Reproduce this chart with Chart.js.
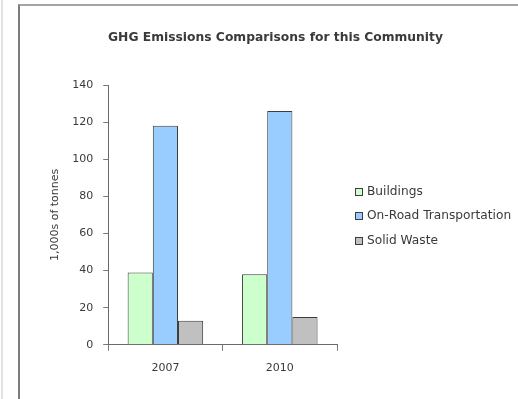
<!DOCTYPE html>
<html>
<head>
<meta charset="utf-8">
<script src="https://cdn.jsdelivr.net/npm/chart.js@4/dist/chart.umd.min.js"></script>
<style>
  html, body { margin: 0; padding: 0; background: #fff; }
  body { width: 518px; height: 399px; position: relative; overflow: hidden; }
  #edge { position: absolute; left: 1px; top: 0; width: 2px; height: 399px; background: #e2e2e2; }
  #frame { position: absolute; left: 18px; top: 4px; width: 520px; height: 420px;
           border-left: 2px solid #7c7c7c; border-top: 2px solid #a4a4a4; }
  #wrap { position: absolute; left: 20px; top: 6px; width: 498px; height: 393px; }
</style>
</head>
<body>
<div id="edge"></div>
<div id="frame"></div>
<div id="wrap"><canvas id="c" width="498" height="393"></canvas></div>
<script>
// Emissions by sector, thousands of tonnes
const years = ['2007', '2010'];
const buildings = [39, 38];
const onRoadTransportation = [118, 126];
const solidWaste = [13, 15];
const yTicks = [0, 20, 40, 60, 80, 100, 120, 140];
const chartTitle = 'GHG Emissions Comparisons for this Community';

const FONT = "'DejaVu Sans', 'Liberation Sans', sans-serif";
const TEXT = '#3a3a3a';
const EDGE = '#3c3c3c';

// Title centred over the whole frame, legend listed to the right of the plot
const sideText = {
  id: 'sideText',
  afterDraw(chart) {
    const { ctx, chartArea } = chart;
    ctx.save();
    ctx.font = `bold 12.3px ${FONT}`;
    ctx.textAlign = 'center';
    ctx.textBaseline = 'middle';
    ctx.fillStyle = TEXT;
    ctx.fillText(chartTitle, 255.5, 32);

    const x = chartArea.right + 18;
    const rowGap = 24.5;
    const n = chart.data.datasets.length;
    const midY = (chartArea.top + chartArea.bottom) / 2 + 1.5;
    ctx.font = `12.2px ${FONT}`;
    ctx.textAlign = 'left';
    chart.data.datasets.forEach((ds, i) => {
      const y = Math.round(midY + (i - (n - 1) / 2) * rowGap);
      ctx.fillStyle = ds.backgroundColor;
      ctx.fillRect(x, y - 4, 8, 8);
      ctx.strokeStyle = EDGE;
      ctx.lineWidth = 1;
      ctx.strokeRect(x + 0.5, y - 3.5, 7, 7);
      ctx.fillStyle = TEXT;
      ctx.fillText(ds.label, x + 12, y);
    });
    ctx.restore();
  }
};

new Chart(document.getElementById('c'), {
  type: 'bar',
  data: {
    labels: years,
    datasets: [
      { label: 'Buildings', data: buildings, backgroundColor: '#ccffcc', borderColor: EDGE, borderWidth: 1 },
      { label: 'On-Road Transportation', data: onRoadTransportation, backgroundColor: '#99ccff', borderColor: EDGE, borderWidth: 1 },
      { label: 'Solid Waste', data: solidWaste, backgroundColor: '#c0c0c0', borderColor: EDGE, borderWidth: 1 }
    ]
  },
  plugins: [sideText],
  options: {
    responsive: false,
    animation: false,
    devicePixelRatio: 1,
    layout: { padding: { left: 29, right: 181, top: 79, bottom: 13 } },
    datasets: { bar: { categoryPercentage: 0.66, barPercentage: 1.0 } },
    plugins: {
      tooltip: { enabled: false },
      legend: { display: false },
      title: { display: false }
    },
    scales: {
      x: {
        grid: { display: true, drawOnChartArea: false, offset: true, tickLength: 6, color: '#7a7a7a' },
        border: { color: '#6a6a6a', width: 1 },
        ticks: { color: TEXT, font: { family: FONT, size: 11 }, padding: 11 }
      },
      y: {
        min: 0,
        max: 140,
        afterBuildTicks: (axis) => { axis.ticks = yTicks.map(v => ({ value: v })); },
        grid: { display: true, drawOnChartArea: false, tickLength: 5, color: '#7a7a7a' },
        border: { color: '#6a6a6a', width: 1 },
        ticks: { color: TEXT, font: { family: FONT, size: 11 }, padding: 10 },
        title: {
          display: true,
          text: '1,000s of tonnes',
          color: TEXT,
          font: { family: FONT, size: 11 },
          padding: { top: 0, bottom: 0 }
        }
      }
    }
  }
});
</script>
</body>
</html>
